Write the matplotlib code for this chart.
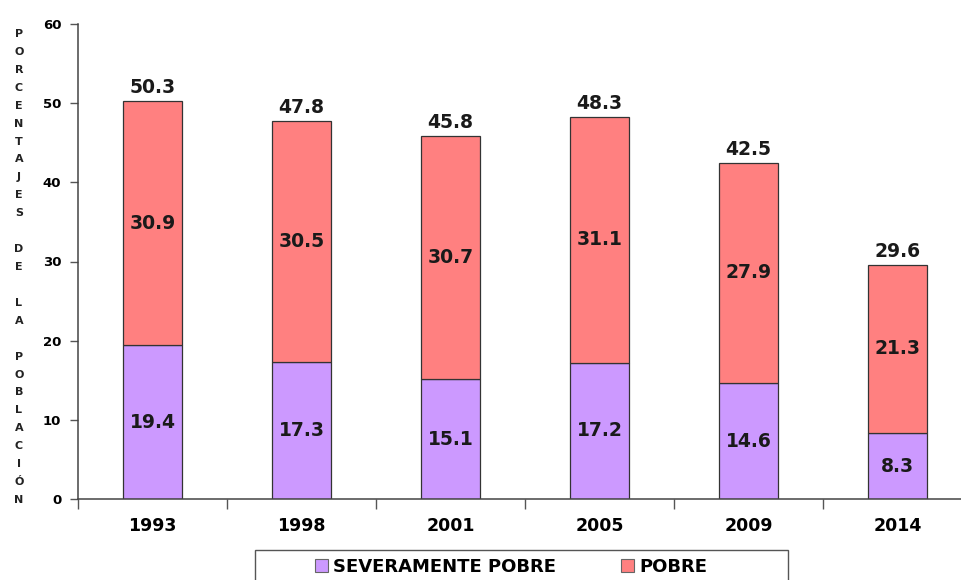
import matplotlib
matplotlib.use("Agg")
import matplotlib.pyplot as plt
from matplotlib.patches import Rectangle, Patch
import numpy as np

years = ["1993", "1998", "2001", "2005", "2009", "2014"]
severamente = [19.4, 17.3, 15.1, 17.2, 14.6, 8.3]
pobre = [30.9, 30.5, 30.7, 31.1, 27.9, 21.3]
totales = [50.3, 47.8, 45.8, 48.3, 42.5, 29.6]
series_names = ["SEVERAMENTE POBRE", "POBRE"]
ylabel_text = "PORCENTAJES DE LA POBLACIÓN"

col_sev = "#CC99FF"
col_pob = "#FF8080"
edge = "#333333"

plt.rcParams['font.family'] = ['DejaVu Sans']

W, H = 961, 580
fig = plt.figure(figsize=(W / 100, H / 100), dpi=100)
ax = fig.add_axes([78 / W, 1 - 499 / H, 894 / W, (499 - 24) / H])

x = np.arange(len(years))
bw = 0.40
ax.bar(x, severamente, bw, color=col_sev, edgecolor=edge, linewidth=0.9)
ax.bar(x, pobre, bw, bottom=severamente, color=col_pob, edgecolor=edge, linewidth=0.9)

for i in range(len(years)):
    ax.text(x[i], severamente[i] / 2, f"{severamente[i]:.1f}", ha="center", va="center",
            fontsize=13.5, fontweight="bold", color="#1a1a1a")
    ax.text(x[i], severamente[i] + pobre[i] / 2, f"{pobre[i]:.1f}", ha="center", va="center",
            fontsize=13.5, fontweight="bold", color="#1a1a1a")
    ax.text(x[i], totales[i] + 0.5, f"{totales[i]:.1f}", ha="center", va="bottom",
            fontsize=13.5, fontweight="bold", color="#1a1a1a")

ax.set_xlim(-0.5, len(years) - 0.5)
ax.set_ylim(0, 60)
ax.set_yticks(np.arange(0, 61, 10))
ax.set_yticklabels([str(v) for v in range(0, 61, 10)], fontsize=9.5, fontweight="bold")
ax.set_xticks(np.arange(-0.5, len(years), 1.0))
ax.set_xticklabels([])
ax.set_xticks(x, minor=True)
ax.set_xticklabels(years, minor=True, fontsize=12.5, fontweight="bold")
ax.tick_params(axis="x", which="major", direction="out", length=7, width=1, color="#555555")
ax.tick_params(axis="x", which="minor", length=0, pad=13)
ax.tick_params(axis="y", direction="out", length=6, width=1, color="#555555", pad=6)

for s in ["top", "right"]:
    ax.spines[s].set_visible(False)
for s in ["left", "bottom"]:
    ax.spines[s].set_color("#444444")
    ax.spines[s].set_linewidth(1.1)

# vertical stacked-letter y label
lines = []
for w_i, word in enumerate(ylabel_text.split(" ")):
    if w_i > 0:
        lines.append("")
    lines.extend(list(word))
y0 = 34
step = (500 - 34) / (len(lines) - 1)
for k, ch in enumerate(lines):
    if ch:
        fig.text(19 / W, 1 - (y0 + k * step) / H, ch, ha="center", va="center",
                 fontsize=8, fontweight="bold", color="#222222")

# legend
fig.patches.append(Rectangle((255 / W, 1 - 590 / H), (788 - 255) / W, 40 / H,
                             transform=fig.transFigure, facecolor="white",
                             edgecolor="#555555", linewidth=1.0))
handles = [Patch(facecolor=col_sev, edgecolor="#666666", linewidth=0.8),
           Patch(facecolor=col_pob, edgecolor="#666666", linewidth=0.8)]
fig.legend(handles, series_names, loc="center", bbox_to_anchor=(511 / W, 1 - 567 / H),
           ncol=2, frameon=False, prop={"size": 13, "weight": "bold"},
           handlelength=0.7, handleheight=0.7, handletextpad=0.3, columnspacing=3.6)

fig.savefig("out.png", dpi=100)
